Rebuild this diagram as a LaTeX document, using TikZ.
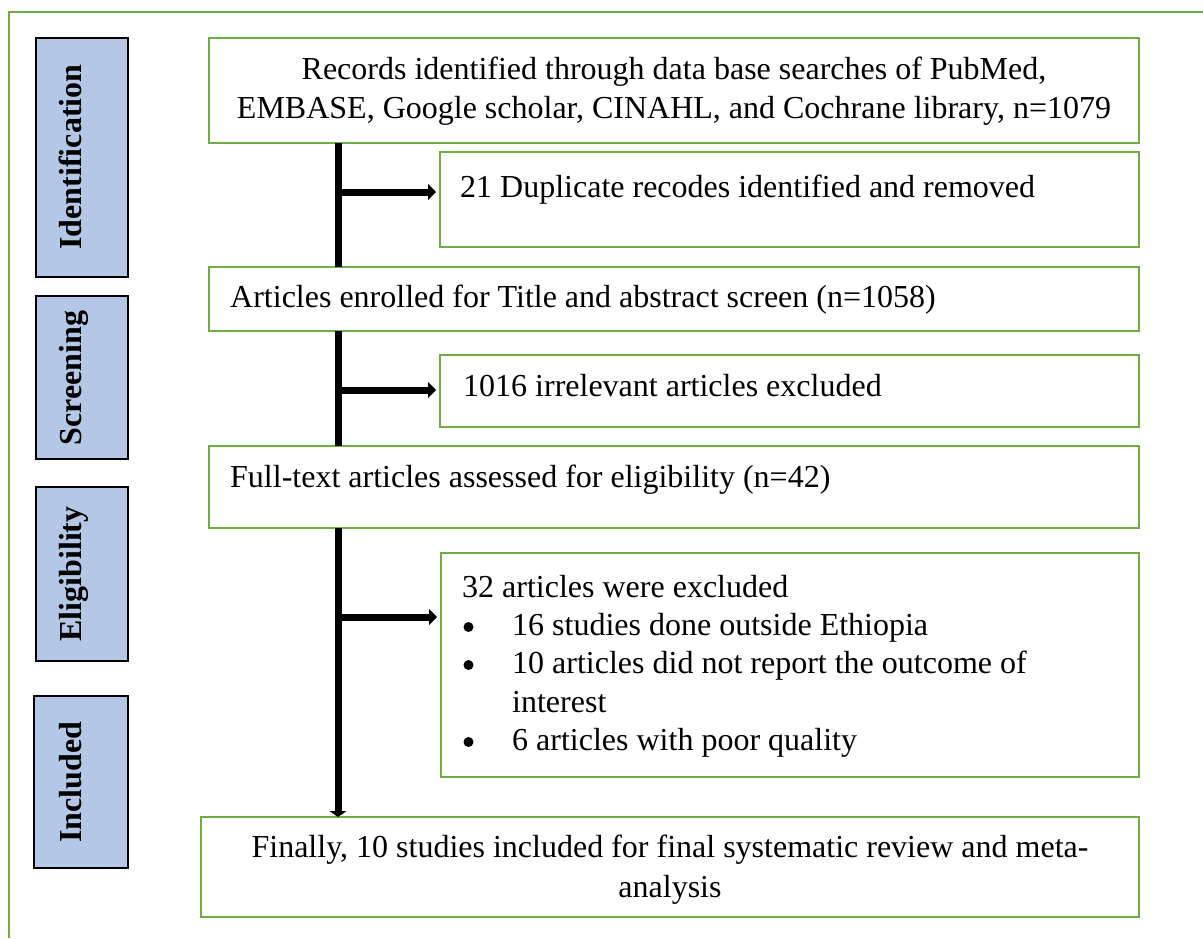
\documentclass[tikz,border=0pt]{standalone}
\usepackage{fontspec}
\setmainfont{Liberation Serif}
\usetikzlibrary{arrows.meta}
\definecolor{pgreen}{RGB}{112,173,71}
\definecolor{pblue}{RGB}{180,199,231}
\begin{document}
\begin{tikzpicture}[x=1pt,y=-1pt,
  gbox/.style={draw=pgreen, line width=2.5pt, fill=white, rectangle, inner sep=0pt, outer sep=0pt, anchor=north west},
  stagebox/.style={draw=black, line width=2.5pt, fill=pblue, rectangle, inner sep=0pt, outer sep=0pt, anchor=north west},
  stagetxt/.style={rotate=90, anchor=base, font=\fontsize{32}{38}\selectfont\bfseries, inner sep=0pt},
  txt/.style={font=\fontsize{32}{39}\selectfont, inner sep=0pt, anchor=base west},
  ctxt/.style={font=\fontsize{32}{39}\selectfont, inner sep=0pt, anchor=base},
  flow/.style={line width=7pt, draw=black},
  harrow/.style={-{Triangle[length=8pt,width=16pt]}},
  varrow/.style={-{Triangle[length=6pt,width=17pt]}},
  bulletdot/.style={fill=black}
]
\useasboundingbox (0,0) rectangle (1203,938);
\fill[white] (0,0) rectangle (1203,938);
% outer frame
\draw[pgreen, line width=2pt] (9,938) -- (9,12) -- (1203,12);

% spine coordinates
\coordinate (spine) at (338,0);
\coordinate (b1) at (338,192);
\coordinate (b2) at (338,390);
\coordinate (b3) at (338,617);

% stage boxes
\node[stagebox, minimum width=92pt, minimum height=239pt] (sid) at (36,38) {};
\node[stagebox, minimum width=92pt, minimum height=163pt] (sscr) at (36,296) {};
\node[stagebox, minimum width=92pt, minimum height=174pt] (selig) at (36,487) {};
\node[stagebox, minimum width=94pt, minimum height=172pt] (sinc) at (34,696) {};
\node[stagetxt] (sidt) at (81,157) {Identification};
\node[stagetxt] (sscrt) at (81,378) {Screening};
\node[stagetxt] (seligt) at (81,574) {Eligibility};
\node[stagetxt] (sinct) at (81,782) {Included};

% flow boxes
\node[gbox, minimum width=930pt, minimum height=105pt] (rec) at (209,38) {};
\node[gbox, minimum width=699pt, minimum height=95pt] (dup) at (440,152) {};
\node[gbox, minimum width=930pt, minimum height=64pt] (enr) at (209,267) {};
\node[gbox, minimum width=699pt, minimum height=72pt] (irr) at (440,355) {};
\node[gbox, minimum width=930pt, minimum height=82pt] (full) at (209,446) {};
\node[gbox, minimum width=698pt, minimum height=224pt] (excl) at (441,553) {};
\node[gbox, minimum width=938pt, minimum height=100pt] (fin) at (201,817) {};

% connectors
\draw[flow] (spine |- rec.south) -- (spine |- enr.north);
\draw[flow] (spine |- enr.south) -- (spine |- full.north);
\draw[flow, varrow] (spine |- full.south) -- (spine |- fin.north);
\draw[flow, harrow, shorten >=4pt] (b1) -- (dup.west |- b1);
\draw[flow, harrow, shorten >=4pt] (b2) -- (irr.west |- b2);
\draw[flow, harrow, shorten >=4pt] (b3) -- (excl.west |- b3);

% texts
\node[ctxt] (rec1) at (674,79) {Records identified through data base searches of PubMed,};
\node[ctxt] (rec2) at (674,118) {EMBASE, Google scholar, CINAHL, and Cochrane library, n=1079};
\node[txt] (dupt) at (460,197) {21 Duplicate recodes identified and removed};
\node[txt] (enrt) at (230,307) {Articles enrolled for Title and abstract screen (n=1058)};
\node[txt] (irrt) at (463,396) {1016 irrelevant articles excluded};
\node[txt] (fullt) at (230,487) {Full-text articles assessed for eligibility (n=42)};
\node[txt] (ex0) at (462,597) {32 articles were excluded};
\node[txt] (ex1) at (512,635) {16 studies done outside Ethiopia};
\node[txt] (ex2) at (512,673) {10 articles did not report the outcome of};
\node[txt] (ex3) at (512,712) {interest};
\node[txt] (ex4) at (512,750) {6 articles with poor quality};
\fill[bulletdot] (468.5,627) circle (5pt);
\fill[bulletdot] (468.5,665) circle (5pt);
\fill[bulletdot] (468.5,742) circle (5pt);
\node[ctxt] (fin1) at (670,857) {Finally, 10 studies included for final systematic review and meta-};
\node[ctxt] (fin2) at (670,897) {analysis};
\end{tikzpicture}
\end{document}
